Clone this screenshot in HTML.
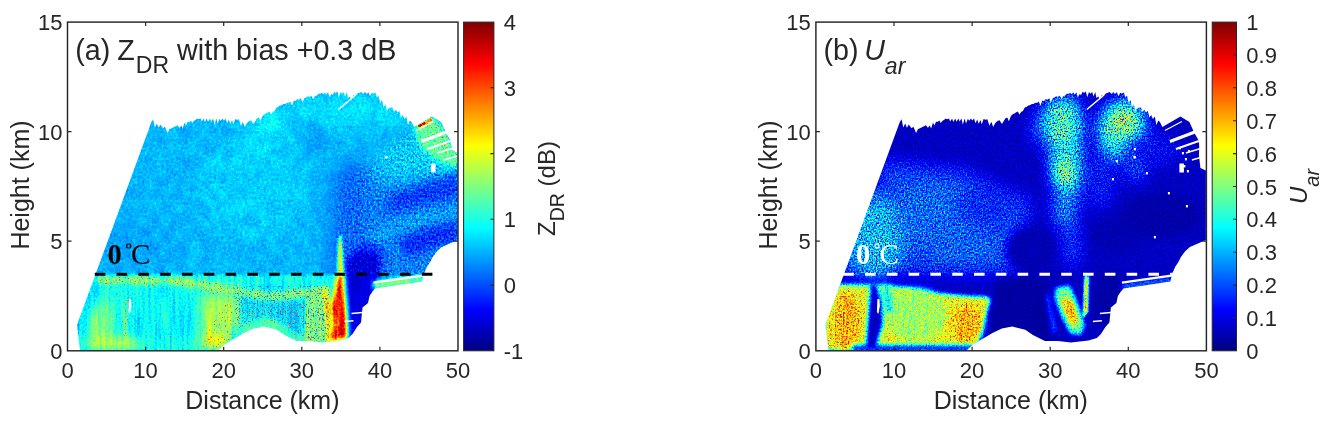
<!DOCTYPE html>
<html><head><meta charset="utf-8"><title>RHI</title><style>html,body{margin:0;padding:0;background:#fff}svg{display:block}text{opacity:.996}text{font-family:'Liberation Sans',sans-serif;fill:#262626}.tk{font-size:22px}.lb{font-size:25px}.tt{font-size:28.7px}</style></head><body>
<svg width="1327" height="427" viewBox="0 0 1327 427">
<defs>
<linearGradient id="jg" x1="0" y1="1" x2="0" y2="0"><stop offset="0.0000" stop-color="rgb(0,0,128)"/><stop offset="0.0312" stop-color="rgb(0,0,159)"/><stop offset="0.0625" stop-color="rgb(0,0,191)"/><stop offset="0.0938" stop-color="rgb(0,0,223)"/><stop offset="0.1250" stop-color="rgb(0,0,255)"/><stop offset="0.1562" stop-color="rgb(0,32,255)"/><stop offset="0.1875" stop-color="rgb(0,64,255)"/><stop offset="0.2188" stop-color="rgb(0,96,255)"/><stop offset="0.2500" stop-color="rgb(0,128,255)"/><stop offset="0.2812" stop-color="rgb(0,159,255)"/><stop offset="0.3125" stop-color="rgb(0,191,255)"/><stop offset="0.3438" stop-color="rgb(0,223,255)"/><stop offset="0.3750" stop-color="rgb(0,255,255)"/><stop offset="0.4062" stop-color="rgb(32,255,223)"/><stop offset="0.4375" stop-color="rgb(64,255,191)"/><stop offset="0.4688" stop-color="rgb(96,255,159)"/><stop offset="0.5000" stop-color="rgb(128,255,128)"/><stop offset="0.5312" stop-color="rgb(159,255,96)"/><stop offset="0.5625" stop-color="rgb(191,255,64)"/><stop offset="0.5938" stop-color="rgb(223,255,32)"/><stop offset="0.6250" stop-color="rgb(255,255,0)"/><stop offset="0.6562" stop-color="rgb(255,223,0)"/><stop offset="0.6875" stop-color="rgb(255,191,0)"/><stop offset="0.7188" stop-color="rgb(255,159,0)"/><stop offset="0.7500" stop-color="rgb(255,128,0)"/><stop offset="0.7812" stop-color="rgb(255,96,0)"/><stop offset="0.8125" stop-color="rgb(255,64,0)"/><stop offset="0.8438" stop-color="rgb(255,32,0)"/><stop offset="0.8750" stop-color="rgb(255,0,0)"/><stop offset="0.9062" stop-color="rgb(223,0,0)"/><stop offset="0.9375" stop-color="rgb(191,0,0)"/><stop offset="0.9688" stop-color="rgb(159,0,0)"/><stop offset="1.0000" stop-color="rgb(128,0,0)"/></linearGradient>
<filter id="b1" x="-30%" y="-30%" width="160%" height="160%" color-interpolation-filters="sRGB"><feGaussianBlur stdDeviation="1"/></filter>
<filter id="b2" x="-30%" y="-30%" width="160%" height="160%" color-interpolation-filters="sRGB"><feGaussianBlur stdDeviation="2"/></filter>
<filter id="b4" x="-30%" y="-30%" width="160%" height="160%" color-interpolation-filters="sRGB"><feGaussianBlur stdDeviation="4"/></filter>
<filter id="b8" x="-30%" y="-30%" width="160%" height="160%" color-interpolation-filters="sRGB"><feGaussianBlur stdDeviation="8"/></filter>
<filter id="j1u" x="0" y="0" width="1327" height="427" filterUnits="userSpaceOnUse" color-interpolation-filters="sRGB"><feTurbulence type="fractalNoise" baseFrequency="0.42 0.38" numOctaves="3" seed="5" result="n"/><feColorMatrix in="n" type="matrix" values="1.3 1.3 0 0 -0.8  1.3 1.3 0 0 -0.8  1.3 1.3 0 0 -0.8  0 0 0 0 1" result="ng"/><feTurbulence type="fractalNoise" baseFrequency="0.09 0.07" numOctaves="2" seed="12" result="s"/><feColorMatrix in="s" type="matrix" values="1.3 1.3 0 0 -0.8  1.3 1.3 0 0 -0.8  1.3 1.3 0 0 -0.8  0 0 0 0 1" result="sg"/><feComposite in="ng" in2="sg" operator="arithmetic" k1="0" k2="0.65" k3="0.35" k4="0" result="ng"/><feComposite in="SourceGraphic" in2="ng" operator="arithmetic" k1="0.200" k2="0.900" k3="0.050" k4="-0.025" result="v"/><feComponentTransfer in="v"><feFuncR type="table" tableValues="0.000 0.000 0.000 0.000 0.000 0.000 0.000 0.000 0.000 0.000 0.000 0.000 0.000 0.000 0.000 0.000 0.100 0.200 0.300 0.400 0.500 0.600 0.700 0.800 0.900 1.000 1.000 1.000 1.000 1.000 1.000 1.000 1.000 1.000 1.000 1.000 0.900 0.800 0.700 0.600 0.500"/><feFuncG type="table" tableValues="0.000 0.000 0.000 0.000 0.000 0.000 0.100 0.200 0.300 0.400 0.500 0.600 0.700 0.800 0.900 1.000 1.000 1.000 1.000 1.000 1.000 1.000 1.000 1.000 1.000 1.000 0.900 0.800 0.700 0.600 0.500 0.400 0.300 0.200 0.100 0.000 0.000 0.000 0.000 0.000 0.000"/><feFuncB type="table" tableValues="0.500 0.600 0.700 0.800 0.900 1.000 1.000 1.000 1.000 1.000 1.000 1.000 1.000 1.000 1.000 1.000 0.900 0.800 0.700 0.600 0.500 0.400 0.300 0.200 0.100 0.000 0.000 0.000 0.000 0.000 0.000 0.000 0.000 0.000 0.000 0.000 0.000 0.000 0.000 0.000 0.000"/></feComponentTransfer></filter>
<filter id="j1r" x="0" y="0" width="1327" height="427" filterUnits="userSpaceOnUse" color-interpolation-filters="sRGB"><feTurbulence type="fractalNoise" baseFrequency="0.55 0.47" numOctaves="2" seed="6" result="n"/><feColorMatrix in="n" type="matrix" values="1.3 1.3 0 0 -0.8  1.3 1.3 0 0 -0.8  1.3 1.3 0 0 -0.8  0 0 0 0 1" result="ng"/><feComposite in="SourceGraphic" in2="ng" operator="arithmetic" k1="0.250" k2="0.875" k3="0.150" k4="-0.075" result="v"/><feComponentTransfer in="v"><feFuncR type="table" tableValues="0.000 0.000 0.000 0.000 0.000 0.000 0.000 0.000 0.000 0.000 0.000 0.000 0.000 0.000 0.000 0.000 0.100 0.200 0.300 0.400 0.500 0.600 0.700 0.800 0.900 1.000 1.000 1.000 1.000 1.000 1.000 1.000 1.000 1.000 1.000 1.000 0.900 0.800 0.700 0.600 0.500"/><feFuncG type="table" tableValues="0.000 0.000 0.000 0.000 0.000 0.000 0.100 0.200 0.300 0.400 0.500 0.600 0.700 0.800 0.900 1.000 1.000 1.000 1.000 1.000 1.000 1.000 1.000 1.000 1.000 1.000 0.900 0.800 0.700 0.600 0.500 0.400 0.300 0.200 0.100 0.000 0.000 0.000 0.000 0.000 0.000"/><feFuncB type="table" tableValues="0.500 0.600 0.700 0.800 0.900 1.000 1.000 1.000 1.000 1.000 1.000 1.000 1.000 1.000 1.000 1.000 0.900 0.800 0.700 0.600 0.500 0.400 0.300 0.200 0.100 0.000 0.000 0.000 0.000 0.000 0.000 0.000 0.000 0.000 0.000 0.000 0.000 0.000 0.000 0.000 0.000"/></feComponentTransfer></filter>
<filter id="j1l" x="0" y="0" width="1327" height="427" filterUnits="userSpaceOnUse" color-interpolation-filters="sRGB"><feTurbulence type="fractalNoise" baseFrequency="0.5 0.45" numOctaves="2" seed="8" result="n"/><feColorMatrix in="n" type="matrix" values="1.3 1.3 0 0 -0.8  1.3 1.3 0 0 -0.8  1.3 1.3 0 0 -0.8  0 0 0 0 1" result="ng"/><feTurbulence type="fractalNoise" baseFrequency="0.33 0.02" numOctaves="2" seed="15" result="s"/><feColorMatrix in="s" type="matrix" values="1.3 1.3 0 0 -0.8  1.3 1.3 0 0 -0.8  1.3 1.3 0 0 -0.8  0 0 0 0 1" result="sg"/><feComposite in="ng" in2="sg" operator="arithmetic" k1="0" k2="0.50" k3="0.50" k4="0" result="ng"/><feComposite in="SourceGraphic" in2="ng" operator="arithmetic" k1="0.300" k2="0.850" k3="0.080" k4="-0.040" result="v"/><feComponentTransfer in="v"><feFuncR type="table" tableValues="0.000 0.000 0.000 0.000 0.000 0.000 0.000 0.000 0.000 0.000 0.000 0.000 0.000 0.000 0.000 0.000 0.100 0.200 0.300 0.400 0.500 0.600 0.700 0.800 0.900 1.000 1.000 1.000 1.000 1.000 1.000 1.000 1.000 1.000 1.000 1.000 0.900 0.800 0.700 0.600 0.500"/><feFuncG type="table" tableValues="0.000 0.000 0.000 0.000 0.000 0.000 0.100 0.200 0.300 0.400 0.500 0.600 0.700 0.800 0.900 1.000 1.000 1.000 1.000 1.000 1.000 1.000 1.000 1.000 1.000 1.000 0.900 0.800 0.700 0.600 0.500 0.400 0.300 0.200 0.100 0.000 0.000 0.000 0.000 0.000 0.000"/><feFuncB type="table" tableValues="0.500 0.600 0.700 0.800 0.900 1.000 1.000 1.000 1.000 1.000 1.000 1.000 1.000 1.000 1.000 1.000 0.900 0.800 0.700 0.600 0.500 0.400 0.300 0.200 0.100 0.000 0.000 0.000 0.000 0.000 0.000 0.000 0.000 0.000 0.000 0.000 0.000 0.000 0.000 0.000 0.000"/></feComponentTransfer></filter>
<filter id="j2u" x="0" y="0" width="1327" height="427" filterUnits="userSpaceOnUse" color-interpolation-filters="sRGB"><feTurbulence type="fractalNoise" baseFrequency="0.68 0.61" numOctaves="2" seed="9" result="n"/><feColorMatrix in="n" type="matrix" values="1.3 1.3 0 0 -0.8  1.3 1.3 0 0 -0.8  1.3 1.3 0 0 -0.8  0 0 0 0 1" result="ng"/><feComposite in="SourceGraphic" in2="ng" operator="arithmetic" k1="1.350" k2="0.325" k3="0.030" k4="-0.015" result="v"/><feComponentTransfer in="v"><feFuncR type="table" tableValues="0.000 0.000 0.000 0.000 0.000 0.000 0.000 0.000 0.000 0.000 0.000 0.000 0.000 0.000 0.000 0.000 0.100 0.200 0.300 0.400 0.500 0.600 0.700 0.800 0.900 1.000 1.000 1.000 1.000 1.000 1.000 1.000 1.000 1.000 1.000 1.000 0.900 0.800 0.700 0.600 0.500"/><feFuncG type="table" tableValues="0.000 0.000 0.000 0.000 0.000 0.000 0.100 0.200 0.300 0.400 0.500 0.600 0.700 0.800 0.900 1.000 1.000 1.000 1.000 1.000 1.000 1.000 1.000 1.000 1.000 1.000 0.900 0.800 0.700 0.600 0.500 0.400 0.300 0.200 0.100 0.000 0.000 0.000 0.000 0.000 0.000"/><feFuncB type="table" tableValues="0.500 0.600 0.700 0.800 0.900 1.000 1.000 1.000 1.000 1.000 1.000 1.000 1.000 1.000 1.000 1.000 0.900 0.800 0.700 0.600 0.500 0.400 0.300 0.200 0.100 0.000 0.000 0.000 0.000 0.000 0.000 0.000 0.000 0.000 0.000 0.000 0.000 0.000 0.000 0.000 0.000"/></feComponentTransfer></filter>
<filter id="j2l" x="0" y="0" width="1327" height="427" filterUnits="userSpaceOnUse" color-interpolation-filters="sRGB"><feTurbulence type="fractalNoise" baseFrequency="0.62 0.55" numOctaves="2" seed="3" result="n"/><feColorMatrix in="n" type="matrix" values="1.3 1.3 0 0 -0.8  1.3 1.3 0 0 -0.8  1.3 1.3 0 0 -0.8  0 0 0 0 1" result="ng"/><feTurbulence type="fractalNoise" baseFrequency="0.25 0.03" numOctaves="2" seed="10" result="s"/><feColorMatrix in="s" type="matrix" values="1.3 1.3 0 0 -0.8  1.3 1.3 0 0 -0.8  1.3 1.3 0 0 -0.8  0 0 0 0 1" result="sg"/><feComposite in="ng" in2="sg" operator="arithmetic" k1="0" k2="0.85" k3="0.15" k4="0" result="ng"/><feComposite in="SourceGraphic" in2="ng" operator="arithmetic" k1="0.620" k2="0.690" k3="0.040" k4="-0.020" result="v"/><feComponentTransfer in="v"><feFuncR type="table" tableValues="0.000 0.000 0.000 0.000 0.000 0.000 0.000 0.000 0.000 0.000 0.000 0.000 0.000 0.000 0.000 0.000 0.100 0.200 0.300 0.400 0.500 0.600 0.700 0.800 0.900 1.000 1.000 1.000 1.000 1.000 1.000 1.000 1.000 1.000 1.000 1.000 0.900 0.800 0.700 0.600 0.500"/><feFuncG type="table" tableValues="0.000 0.000 0.000 0.000 0.000 0.000 0.100 0.200 0.300 0.400 0.500 0.600 0.700 0.800 0.900 1.000 1.000 1.000 1.000 1.000 1.000 1.000 1.000 1.000 1.000 1.000 0.900 0.800 0.700 0.600 0.500 0.400 0.300 0.200 0.100 0.000 0.000 0.000 0.000 0.000 0.000"/><feFuncB type="table" tableValues="0.500 0.600 0.700 0.800 0.900 1.000 1.000 1.000 1.000 1.000 1.000 1.000 1.000 1.000 1.000 1.000 0.900 0.800 0.700 0.600 0.500 0.400 0.300 0.200 0.100 0.000 0.000 0.000 0.000 0.000 0.000 0.000 0.000 0.000 0.000 0.000 0.000 0.000 0.000 0.000 0.000"/></feComponentTransfer></filter>
<filter id="spw" x="0" y="0" width="1327" height="427" filterUnits="userSpaceOnUse" color-interpolation-filters="sRGB"><feTurbulence type="fractalNoise" baseFrequency="0.63 0.59" numOctaves="1" seed="21"/><feColorMatrix type="matrix" values="0 1 0 0 0  0 1 0 0 0  0 1 0 0 0  9.00 0 0 0 -5.40"/><feComponentTransfer><feFuncR type="table" tableValues="1 1 1 0.9 0.6"/><feFuncG type="table" tableValues="1 0.8 0.5 0.2 0"/><feFuncB type="table" tableValues="0 0 0 0 0"/></feComponentTransfer><feComposite in2="SourceGraphic" operator="in"/></filter>
<filter id="spb" x="0" y="0" width="1327" height="427" filterUnits="userSpaceOnUse" color-interpolation-filters="sRGB"><feTurbulence type="fractalNoise" baseFrequency="0.61 0.57" numOctaves="1" seed="33"/><feColorMatrix type="matrix" values="0 1 0 0 0  0 1 0 0 0  0 1 0 0 0  9.00 0 0 0 -5.22"/><feComponentTransfer><feFuncR type="table" tableValues="0 0 0 0 0"/><feFuncG type="table" tableValues="0.2 0.3 0.5 0.6 0.3"/><feFuncB type="table" tableValues="1 1 1 1 0.9"/></feComponentTransfer><feComposite in2="SourceGraphic" operator="in"/></filter>
<clipPath id="c1"><polygon points="151.3,122.3 153.2,119.3 154.9,127.5 156.8,123.6 158.5,127.8 160.4,124.5 163.1,128.3 165.0,126.8 167.7,133.0 169.6,129.0 171.6,128.2 173.5,127.2 175.6,126.3 177.5,125.3 179.5,127.8 181.4,125.6 182.7,128.4 184.6,122.5 185.9,125.6 187.8,121.5 189.1,121.9 191.0,120.5 192.3,122.9 194.2,120.7 195.5,120.0 197.4,118.5 198.7,119.2 200.6,118.5 201.8,121.4 203.7,118.5 204.9,121.9 206.8,118.5 208.1,121.7 210.0,118.5 211.2,121.5 213.2,118.5 214.4,124.5 216.3,118.5 217.6,123.6 219.5,118.8 220.7,120.7 222.6,118.5 223.9,120.6 225.8,118.5 227.0,123.2 228.9,119.6 230.2,123.7 232.1,120.1 233.3,124.3 235.2,118.9 237.1,119.8 239.0,119.3 241.0,125.7 242.9,121.8 244.8,126.9 246.7,123.3 249.2,121.1 251.1,120.2 253.5,124.1 255.4,121.0 257.0,118.3 258.9,117.4 260.5,121.2 262.4,116.2 264.0,114.6 265.9,113.5 267.5,112.6 269.4,111.5 271.0,114.4 272.9,111.7 274.5,111.1 276.4,107.5 278.0,107.0 279.9,105.5 281.5,105.3 283.4,104.1 285.0,103.9 286.9,102.8 288.5,103.0 290.4,101.4 292.0,105.8 293.9,100.6 295.5,101.2 297.4,99.1 299.0,99.8 300.9,98.2 302.5,102.4 304.4,97.9 306.0,97.4 307.9,96.3 309.5,97.1 311.4,95.4 313.0,99.3 314.9,96.0 316.5,95.8 318.4,93.7 320.0,93.8 321.9,92.8 323.1,94.3 325.0,92.5 326.2,94.7 328.1,92.2 329.4,97.6 331.3,93.7 332.5,95.2 334.4,91.5 335.6,93.1 337.5,91.6 338.8,97.2 340.6,92.0 341.9,93.7 343.8,91.9 345.0,96.6 346.9,92.0 348.0,98.1 349.9,96.5 351.5,99.4 353.4,94.9 355.5,95.8 357.4,93.4 359.5,92.7 361.4,92.0 363.0,93.9 364.9,92.1 366.5,94.1 368.4,92.2 370.0,96.0 371.9,92.8 373.5,93.8 375.4,92.3 376.8,96.9 378.7,96.0 380.2,103.3 382.1,99.8 383.5,107.4 385.4,104.3 387.0,110.9 388.9,108.1 390.5,107.8 392.4,107.2 394.0,112.1 395.9,109.8 397.5,112.5 399.4,111.0 401.0,117.4 402.9,114.9 404.5,119.0 406.4,116.5 408.0,125.1 409.9,120.5 411.5,122.0 414.0,127.0 432.0,116.5 441.0,122.0 446.0,133.0 450.0,140.0 452.0,150.0 457.5,153.0 457.5,240.0 441.5,247.0 437.0,251.0 432.5,257.0 430.0,262.0 427.0,266.5 424.5,272.0 423.0,277.0 422.0,281.5 375.0,288.5 372.5,291.5 369.5,296.0 368.0,303.0 362.5,307.5 361.0,322.5 357.0,327.0 352.5,334.0 348.5,338.0 340.0,340.5 322.5,342.5 309.5,341.0 296.5,341.0 284.5,335.0 276.9,329.8 263.8,326.5 253.5,328.5 244.1,333.0 224.5,344.5 217.5,351.0 80.0,351.0 77.0,324.8"/></clipPath>
<clipPath id="c2"><polygon points="899.7,122.3 901.6,119.3 903.3,127.5 905.2,123.6 906.9,127.8 908.8,124.5 911.5,128.3 913.4,126.8 916.1,133.0 918.0,129.0 920.0,128.2 921.9,127.2 924.0,126.3 925.9,125.3 927.9,127.8 929.8,125.6 931.1,128.4 933.0,122.5 934.3,125.6 936.2,121.5 937.5,121.9 939.4,120.5 940.7,122.9 942.6,120.7 943.9,120.0 945.8,118.5 947.0,119.2 949.0,118.5 950.2,121.4 952.1,118.5 953.3,121.9 955.2,118.5 956.5,121.7 958.4,118.5 959.6,121.5 961.5,118.5 962.8,124.5 964.7,118.5 966.0,123.6 967.9,118.8 969.1,120.7 971.0,118.5 972.2,120.6 974.1,118.5 975.4,123.2 977.3,119.6 978.5,123.7 980.5,120.1 981.7,124.3 983.6,118.9 985.5,119.8 987.4,119.3 989.4,125.7 991.3,121.8 993.2,126.9 995.1,123.3 997.5,121.1 999.5,120.2 1001.9,124.1 1003.8,121.0 1005.4,118.3 1007.3,117.4 1008.9,121.2 1010.8,116.2 1012.4,114.6 1014.3,113.5 1015.9,112.6 1017.8,111.5 1019.4,114.4 1021.3,111.7 1022.9,111.1 1024.8,107.5 1026.4,107.0 1028.3,105.5 1029.9,105.3 1031.8,104.1 1033.4,103.9 1035.3,102.8 1036.9,103.0 1038.8,101.4 1040.4,105.8 1042.3,100.6 1043.9,101.2 1045.8,99.1 1047.4,99.8 1049.3,98.2 1050.9,102.4 1052.8,97.9 1054.4,97.4 1056.3,96.3 1057.9,97.1 1059.8,95.4 1061.4,99.3 1063.3,96.0 1064.9,95.8 1066.8,93.7 1068.4,93.8 1070.3,92.8 1071.5,94.3 1073.4,92.5 1074.7,94.7 1076.5,92.2 1077.8,97.6 1079.7,93.7 1080.9,95.2 1082.8,91.5 1084.0,93.1 1085.9,91.6 1087.2,97.2 1089.0,92.0 1090.3,93.7 1092.2,91.9 1093.4,96.6 1095.3,92.0 1096.4,98.1 1098.3,96.5 1099.9,99.4 1101.8,94.9 1103.9,95.8 1105.8,93.4 1107.9,92.7 1109.8,92.0 1111.4,93.9 1113.3,92.1 1114.9,94.1 1116.8,92.2 1118.4,96.0 1120.3,92.8 1121.9,93.8 1123.8,92.3 1125.2,96.9 1127.1,96.0 1128.6,103.3 1130.5,99.8 1131.9,107.4 1133.8,104.3 1135.4,110.9 1137.3,108.1 1138.9,107.8 1140.8,107.2 1142.4,112.1 1144.3,109.8 1145.9,112.5 1147.8,111.0 1149.4,117.4 1151.3,114.9 1152.9,119.0 1154.8,116.5 1156.4,125.1 1158.3,120.5 1159.9,122.0 1162.4,127.0 1180.4,116.5 1189.4,122.0 1194.4,133.0 1198.4,140.0 1200.4,150.0 1205.9,153.0 1205.9,240.0 1189.9,247.0 1185.4,251.0 1180.9,257.0 1178.4,262.0 1175.4,266.5 1172.9,272.0 1171.4,277.0 1170.4,281.5 1123.4,288.5 1120.9,291.5 1117.9,296.0 1116.4,303.0 1110.9,307.5 1109.4,322.5 1105.4,327.0 1100.9,334.0 1096.9,338.0 1088.4,340.5 1070.9,342.5 1057.9,341.0 1044.9,341.0 1032.9,335.0 1025.3,329.8 1012.2,326.5 1001.9,328.5 992.5,333.0 972.9,344.5 965.9,351.0 828.4,351.0 825.4,324.8"/></clipPath>
<clipPath id="u1"><rect x="0" y="0" width="1327" height="275"/></clipPath>
<mask id="mr" maskUnits="userSpaceOnUse" x="0" y="0" width="1327" height="427"><polygon points="407.5,130.0 487.5,110.0 487.5,300.0 335.5,300.0 335.5,185.0" fill="#fff" filter="url(#b8)"/></mask>
<clipPath id="l1"><rect x="0" y="275" width="1327" height="100"/></clipPath>
<g id="fd1"><rect x="67.5" y="22" width="390" height="328" fill="rgb(78,78,78)"/>
<g filter="url(#b8)">
<ellipse cx="252.5" cy="185.0" rx="55.0" ry="55.0" fill="rgb(84,84,84)"/>
<ellipse cx="267.5" cy="135.0" rx="25.0" ry="20.0" fill="rgb(88,88,88)"/>
<ellipse cx="127.5" cy="250.0" rx="40.0" ry="30.0" fill="rgb(74,74,74)"/>
<ellipse cx="315.5" cy="133.0" rx="13.0" ry="14.0" fill="rgb(67,67,67)"/>
<ellipse cx="349.5" cy="112.0" rx="62.0" ry="17.0" fill="rgb(89,89,89)"/>
<ellipse cx="282.5" cy="135.0" rx="16.0" ry="22.0" fill="rgb(85,85,85)"/>
<ellipse cx="271.5" cy="121.0" rx="7.0" ry="13.0" fill="rgb(107,107,107)"/>
<polygon points="329.5,200.0 339.5,165.0 367.5,160.0 377.5,185.0 462.5,178.0 462.5,262.0 367.5,345.0 329.5,345.0 325.5,270.0" fill="rgb(64,64,64)"/>
<ellipse cx="351.5" cy="215.0" rx="13.0" ry="55.0" fill="rgb(57,57,57)"/>
<ellipse cx="439.5" cy="147.0" rx="26.0" ry="22.0" fill="rgb(93,93,93)"/>
<ellipse cx="407.5" cy="160.0" rx="30.0" ry="18.0" fill="rgb(84,84,84)"/>
</g>
<g filter="url(#b4)">
<polygon points="389.5,196.0 417.5,186.0 459.5,172.0 459.5,196.0 417.5,206.0 385.5,214.0" fill="rgb(47,47,47)"/>
<polygon points="367.5,232.0 417.5,214.0 459.5,206.0 459.5,216.0 417.5,226.0 367.5,246.0" fill="rgb(73,73,73)"/>
<polygon points="397.5,240.0 427.5,228.0 459.5,222.0 459.5,240.0 435.5,246.0 407.5,258.0" fill="rgb(43,43,43)"/>
<polygon points="348.5,255.0 367.5,240.0 385.5,250.0 379.5,275.0 347.5,275.0" fill="rgb(42,42,42)"/>
</g>
<g filter="url(#b2)">
<polygon points="67.5,275.0 338.5,275.0 338.5,352.0 67.5,352.0" fill="rgb(102,102,102)"/>
</g>
<g filter="url(#b4)">
<polygon points="75.5,320.0 95.5,276.0 103.5,276.0 87.5,318.0 84.5,338.0 77.5,338.0" fill="rgb(84,84,84)"/>
<ellipse cx="101.5" cy="325.0" rx="12.0" ry="26.0" fill="rgb(122,122,122)" transform="rotate(12.0 101.5 325.0)"/>
<ellipse cx="113.5" cy="343.0" rx="28.0" ry="7.0" fill="rgb(140,140,140)"/>
<ellipse cx="165.5" cy="312.0" rx="38.0" ry="28.0" fill="rgb(96,96,96)"/>
<polygon points="199.5,294.0 237.5,294.0 239.5,318.0 227.5,340.0 217.5,348.0 193.5,348.0 197.5,320.0" fill="rgb(126,126,126)"/>
<ellipse cx="215.5" cy="322.0" rx="8.0" ry="24.0" fill="rgb(145,145,145)"/>
<ellipse cx="217.5" cy="341.0" rx="10.0" ry="6.0" fill="rgb(173,173,173)"/>
<polygon points="243.5,286.0 317.5,284.0 317.5,345.0 302.5,345.0 282.5,325.0 257.5,320.0 243.5,326.0 239.5,310.0" fill="rgb(88,88,88)"/>
<ellipse cx="231.5" cy="314.0" rx="6.0" ry="18.0" fill="rgb(140,140,140)"/>
<ellipse cx="319.5" cy="315.0" rx="9.0" ry="26.0" fill="rgb(128,128,128)"/>
</g>
<g filter="url(#b2)">
<polygon points="95.5,277.0 177.5,277.0 217.5,284.0 267.5,292.0 329.5,286.0 329.5,296.0 267.5,301.0 217.5,292.0 177.5,285.0 95.5,283.0" fill="rgb(128,128,128)"/>
<polygon points="239.5,326.0 264.5,318.0 279.5,322.0 299.5,336.0 317.5,338.0 317.5,345.0 295.5,345.0 277.5,334.0 263.5,330.0 243.5,338.0" fill="rgb(112,112,112)"/>
<polygon points="338.5,274.0 344.0,274.0 347.0,338.0 325.5,342.0 329.5,318.0 334.5,294.0" fill="rgb(219,219,219)"/>
<polygon points="321.5,288.0 326.5,288.0 337.5,326.0 329.5,336.0" fill="rgb(173,173,173)"/>
<polygon points="307.5,288.0 321.5,288.0 329.5,340.0 303.5,342.0" fill="rgb(128,128,128)"/>
<polygon points="346.5,262.0 359.5,250.0 377.5,256.0 379.5,285.0 365.5,330.0 350.5,340.0" fill="rgb(24,24,24)"/>
<polygon points="373.5,281.0 423.5,274.5 423.5,282.5 373.5,290.0" fill="rgb(128,128,128)"/>
</g>
<g filter="url(#b2)">
<polygon points="413.5,128.0 432.0,116.5 446.0,133.0 452.0,150.0 458.5,153.0 458.5,168.0 439.5,162.0 419.5,146.0" fill="rgb(120,120,120)"/>
</g>
<line x1="418.0" y1="126.6" x2="425.3" y2="122.8" stroke="rgb(242,242,242)" stroke-width="2.6"/>
<line x1="425.3" y1="122.8" x2="432.3" y2="119.1" stroke="rgb(199,199,199)" stroke-width="2.6"/>
<g filter="url(#b1)">
<polygon points="337.8,242.0 342.2,242.0 344.5,276.0 336.5,276.0" fill="rgb(102,102,102)"/>
<polygon points="339.1,236.0 340.9,236.0 342.7,276.0 338.3,276.0" fill="rgb(168,168,168)"/>
</g></g>
<g id="fd2"><rect x="815.9" y="22" width="390" height="328" fill="rgb(17,17,17)"/>
<g filter="url(#b8)">
<polygon points="835.9,274.0 885.9,160.0 965.9,170.0 1030.9,200.0 1020.9,274.0" fill="rgb(48,48,48)"/>
<ellipse cx="873.9" cy="238.0" rx="30.0" ry="42.0" fill="rgb(79,79,79)"/>
<ellipse cx="935.9" cy="215.0" rx="42.0" ry="32.0" fill="rgb(57,57,57)"/>
<ellipse cx="985.9" cy="205.0" rx="30.0" ry="20.0" fill="rgb(41,41,41)"/>
<ellipse cx="965.9" cy="250.0" rx="40.0" ry="18.0" fill="rgb(55,55,55)"/>
<polygon points="1043.9,102.0 1075.9,95.0 1082.9,150.0 1077.9,205.0 1061.9,205.0 1049.9,160.0" fill="rgb(87,87,87)"/>
<ellipse cx="1063.4" cy="175.0" rx="8.5" ry="15.0" fill="rgb(163,163,163)"/>
<ellipse cx="1062.9" cy="123.0" rx="19.0" ry="23.0" fill="rgb(110,110,110)"/>
<ellipse cx="1036.9" cy="129.0" rx="4.0" ry="16.0" fill="rgb(76,76,76)"/>
<ellipse cx="1064.9" cy="207.0" rx="12.0" ry="24.0" fill="rgb(69,69,69)"/>
<ellipse cx="1071.9" cy="245.0" rx="9.0" ry="24.0" fill="rgb(48,48,48)"/>
<ellipse cx="1121.9" cy="130.0" rx="24.0" ry="30.0" fill="rgb(107,107,107)"/>
<ellipse cx="1124.4" cy="120.0" rx="9.5" ry="11.5" fill="rgb(158,158,158)"/>
<ellipse cx="1135.9" cy="166.0" rx="9.0" ry="16.0" fill="rgb(64,64,64)"/>
<ellipse cx="1100.9" cy="180.0" rx="14.0" ry="30.0" fill="rgb(38,38,38)"/>
<ellipse cx="1150.9" cy="150.0" rx="30.0" ry="16.0" fill="rgb(33,33,33)"/>
</g>
<g filter="url(#b4)">
<polygon points="995.9,278.0 1047.9,278.0 1051.9,348.0 981.9,348.0 993.9,300.0" fill="rgb(9,9,9)"/>
<ellipse cx="1029.9" cy="250.0" rx="24.0" ry="24.0" fill="rgb(13,13,13)"/>
<ellipse cx="1107.9" cy="300.0" rx="14.0" ry="30.0" fill="rgb(10,10,10)"/>
<ellipse cx="1160.9" cy="215.0" rx="40.0" ry="22.0" fill="rgb(11,11,11)"/>
<ellipse cx="1115.9" cy="235.0" rx="26.0" ry="16.0" fill="rgb(13,13,13)"/>
</g>
<g filter="url(#b2)">
<polygon points="823.9,350.0 823.9,322.0 838.9,284.5 875.9,285.0 905.9,287.5 933.9,293.0 965.9,296.0 989.4,297.0 989.9,302.0 976.9,343.0 972.9,350.0" fill="rgb(156,156,156)"/>
</g>
<g filter="url(#b4)">
<ellipse cx="845.9" cy="322.0" rx="15.0" ry="30.0" fill="rgb(178,178,178)"/>
<ellipse cx="965.9" cy="324.0" rx="17.0" ry="20.0" fill="rgb(176,176,176)"/>
<ellipse cx="915.9" cy="315.0" rx="30.0" ry="26.0" fill="rgb(135,135,135)"/>
<ellipse cx="885.9" cy="300.0" rx="8.0" ry="14.0" fill="rgb(128,128,128)"/>
</g>
<g filter="url(#b2)">
<polygon points="870.6,284.0 876.3,284.0 881.9,304.0 882.9,324.0 876.3,346.0 865.9,350.0 867.4,324.0 869.2,304.0" fill="rgb(15,15,15)"/>
<polygon points="883.9,287.0 887.9,287.0 891.9,312.0 887.9,312.0" fill="rgb(64,64,64)"/>
<polygon points="851.9,345.0 975.9,345.0 972.9,351.0 851.9,351.0" fill="rgb(31,31,31)"/>
<polygon points="1055.8,287.8 1069.8,285.4 1076.9,301.8 1084.9,325.0 1080.4,335.0 1069.9,333.0 1060.4,313.5 1054.6,297.2" fill="rgb(120,120,120)"/>
<ellipse cx="1070.4" cy="311.0" rx="5.5" ry="15.0" fill="rgb(178,178,178)" transform="rotate(-22.0 1070.4 311.0)"/>
<polygon points="1045.9,294.0 1048.4,294.0 1055.9,332.0 1052.9,333.0" fill="rgb(76,76,76)"/>
<polygon points="1121.9,284.0 1172.4,276.8 1172.4,282.0 1121.9,290.0" fill="rgb(61,61,61)"/>
</g>
<g filter="url(#b1)">
<polygon points="1084.5,276.0 1088.5,276.0 1087.9,312.0 1083.1,318.0" fill="rgb(168,168,168)"/>
</g></g>
</defs>
<rect width="1327" height="427" fill="#fff"/>
<g clip-path="url(#c1)">
<g clip-path="url(#u1)"><use href="#fd1" filter="url(#j1u)"/><g mask="url(#mr)"><use href="#fd1" filter="url(#j1r)"/></g></g>
<g clip-path="url(#l1)"><use href="#fd1" filter="url(#j1l)"/></g>
<g filter="url(#spw)">
<polygon points="95.5,276.0 177.5,276.0 217.5,282.0 267.5,290.0 329.5,284.0 329.5,300.0 267.5,305.0 217.5,295.0 177.5,287.0 95.5,284.0"/>
<polygon points="227.5,300.0 329.5,300.0 329.5,345.0 302.5,345.0 282.5,325.0 257.5,320.0 235.5,335.0 227.5,350.0 197.5,350.0 207.5,330.0"/>
<polygon points="126.5,292.0 132.5,292.0 127.5,340.0 119.5,340.0"/>
<polygon points="417.5,118.0 447.5,112.0 459.5,140.0 459.5,165.0 442.5,150.0"/>
</g>
<g filter="url(#spb)">
<polygon points="232.5,286.0 329.5,286.0 329.5,340.0 307.5,340.0 282.5,322.0 257.5,318.0 237.5,330.0"/>
</g>
</g>
<g clip-path="url(#c2)">
<g clip-path="url(#u1)"><use href="#fd2" filter="url(#j2u)"/></g>
<g clip-path="url(#l1)"><use href="#fd2" filter="url(#j2l)"/></g>
</g>
<line x1="338.5" y1="109.5" x2="355.5" y2="95.0" stroke="#fff" stroke-width="1.6"/>
<line x1="416.5" y1="130.5" x2="433.5" y2="121.5" stroke="#fff" stroke-width="1.2"/>
<line x1="421.5" y1="141.5" x2="446.5" y2="132.0" stroke="#fff" stroke-width="3.0"/>
<line x1="427.5" y1="149.0" x2="450.5" y2="141.0" stroke="#fff" stroke-width="2.0"/>
<line x1="437.5" y1="153.0" x2="455.5" y2="147.5" stroke="#fff" stroke-width="1.6"/>
<line x1="443.5" y1="160.0" x2="457.5" y2="156.0" stroke="#fff" stroke-width="1.4"/>
<line x1="373.5" y1="282.6" x2="424.5" y2="275.3" stroke="#fff" stroke-width="2.2"/>
<line x1="344.5" y1="321.5" x2="353.5" y2="320.8" stroke="#fff" stroke-width="1.4"/>
<line x1="351.5" y1="313.5" x2="362.5" y2="312.5" stroke="#fff" stroke-width="1.5"/>
<rect x="431.0" y="163.5" width="4.5" height="9.0" fill="#fff"/>
<rect x="385.0" y="156.0" width="2.5" height="2.5" fill="#fff"/>
<line x1="1086.9" y1="109.5" x2="1103.9" y2="95.0" stroke="#fff" stroke-width="1.6"/>
<line x1="1164.9" y1="130.5" x2="1181.9" y2="121.5" stroke="#fff" stroke-width="1.2"/>
<line x1="1169.9" y1="141.5" x2="1194.9" y2="132.0" stroke="#fff" stroke-width="3.0"/>
<line x1="1175.9" y1="149.0" x2="1198.9" y2="141.0" stroke="#fff" stroke-width="2.0"/>
<line x1="1185.9" y1="153.0" x2="1203.9" y2="147.5" stroke="#fff" stroke-width="1.6"/>
<line x1="1191.9" y1="160.0" x2="1205.9" y2="156.0" stroke="#fff" stroke-width="1.4"/>
<line x1="1121.9" y1="282.6" x2="1172.9" y2="275.3" stroke="#fff" stroke-width="2.2"/>
<line x1="1092.9" y1="321.5" x2="1101.9" y2="320.8" stroke="#fff" stroke-width="1.4"/>
<line x1="1099.9" y1="313.5" x2="1110.9" y2="312.5" stroke="#fff" stroke-width="1.5"/>
<rect x="1179.4" y="163.5" width="4.5" height="9.0" fill="#fff"/>
<rect x="1133.4" y="156.0" width="2.5" height="2.5" fill="#fff"/>
<polygon points="1199.4,143.0 1206.9,141.0 1206.9,171.0 1200.4,168.0 1198.9,155.0" fill="#fff"/>
<rect x="1181.9" y="152.0" width="2" height="2.4" fill="#fff"/>
<rect x="1184.9" y="158.0" width="2" height="2.4" fill="#fff"/>
<rect x="1187.9" y="150.0" width="2" height="2.4" fill="#fff"/>
<rect x="1183.4" y="165.0" width="2" height="2.4" fill="#fff"/>
<rect x="1186.9" y="170.0" width="2" height="2.4" fill="#fff"/>
<rect x="1178.9" y="147.0" width="2" height="2.4" fill="#fff"/>
<rect x="1145.9" y="172.0" width="2" height="2.4" fill="#fff"/>
<rect x="1133.9" y="148.0" width="2" height="2.4" fill="#fff"/>
<rect x="1115.9" y="160.0" width="2" height="2.4" fill="#fff"/>
<rect x="1111.9" y="178.0" width="2" height="2.4" fill="#fff"/>
<rect x="1167.9" y="192.0" width="2" height="2.4" fill="#fff"/>
<rect x="1185.9" y="205.0" width="2" height="2.4" fill="#fff"/>
<rect x="1153.9" y="236.0" width="2" height="2.4" fill="#fff"/>
<polygon points="129.0,299.0 131.0,299.0 131.5,306.0 130.0,314.0 128.5,312.0" fill="#fff"/>
<polygon points="877.4,299.0 879.4,299.0 879.9,306.0 878.4,314.0 876.9,312.0" fill="#fff"/>
<path d="M94.8 274.2H433.5" stroke="#000" stroke-width="3" stroke-dasharray="10.6 11.2" fill="none"/>
<text x="107.5" y="263.7" style="fill:#000;font-family:'Liberation Serif',serif;font-size:28.5px"><tspan font-weight="bold">0</tspan></text>
<circle cx="128.7" cy="245.9" r="2.1" fill="none" stroke="#000" stroke-width="1.1"/>
<text x="131.0" y="263.7" style="fill:#000;font-family:'Liberation Serif',serif;font-size:29px">C</text>
<path d="M843.2 274.2H1181.9" stroke="#fff" stroke-width="3" stroke-dasharray="10.6 11.2" fill="none"/>
<text x="855.9" y="263.7" style="fill:#fff;font-family:'Liberation Serif',serif;font-size:28.5px"><tspan font-weight="bold">0</tspan></text>
<circle cx="877.1" cy="245.9" r="2.1" fill="none" stroke="#fff" stroke-width="1.1"/>
<text x="879.4" y="263.7" style="fill:#fff;font-family:'Liberation Serif',serif;font-size:29px">C</text>
<rect x="67.5" y="22.1" width="390.5" height="328.7" fill="none" stroke="#262626" stroke-width="1.45"/>
<path d="M145.6 350.8v-4.0M145.6 22.1v4.0M223.7 350.8v-4.0M223.7 22.1v4.0M301.8 350.8v-4.0M301.8 22.1v4.0M379.9 350.8v-4.0M379.9 22.1v4.0M67.5 241.2h4.0M458.0 241.2h-4.0M67.5 131.7h4.0M458.0 131.7h-4.0" stroke="#262626" stroke-width="1.2" fill="none"/>
<text x="67.5" y="378.3" text-anchor="middle" class="tk">0</text>
<text x="145.6" y="378.3" text-anchor="middle" class="tk">10</text>
<text x="223.7" y="378.3" text-anchor="middle" class="tk">20</text>
<text x="301.8" y="378.3" text-anchor="middle" class="tk">30</text>
<text x="379.9" y="378.3" text-anchor="middle" class="tk">40</text>
<text x="458.0" y="378.3" text-anchor="middle" class="tk">50</text>
<text x="62.4" y="358.6" text-anchor="end" class="tk">0</text>
<text x="62.4" y="249.0" text-anchor="end" class="tk">5</text>
<text x="62.4" y="139.5" text-anchor="end" class="tk">10</text>
<text x="62.4" y="29.9" text-anchor="end" class="tk">15</text>
<text x="262.4" y="409.3" text-anchor="middle" class="lb">Distance (km)</text>
<text transform="translate(28.5,185.0) rotate(-90)" text-anchor="middle" class="lb">Height (km)</text>
<rect x="815.9" y="22.1" width="390.5" height="328.7" fill="none" stroke="#262626" stroke-width="1.45"/>
<path d="M894.0 350.8v-4.0M894.0 22.1v4.0M972.1 350.8v-4.0M972.1 22.1v4.0M1050.2 350.8v-4.0M1050.2 22.1v4.0M1128.3 350.8v-4.0M1128.3 22.1v4.0M815.9 241.2h4.0M1206.4 241.2h-4.0M815.9 131.7h4.0M1206.4 131.7h-4.0" stroke="#262626" stroke-width="1.2" fill="none"/>
<text x="815.9" y="378.3" text-anchor="middle" class="tk">0</text>
<text x="894.0" y="378.3" text-anchor="middle" class="tk">10</text>
<text x="972.1" y="378.3" text-anchor="middle" class="tk">20</text>
<text x="1050.2" y="378.3" text-anchor="middle" class="tk">30</text>
<text x="1128.3" y="378.3" text-anchor="middle" class="tk">40</text>
<text x="1206.4" y="378.3" text-anchor="middle" class="tk">50</text>
<text x="810.8" y="358.6" text-anchor="end" class="tk">0</text>
<text x="810.8" y="249.0" text-anchor="end" class="tk">5</text>
<text x="810.8" y="139.5" text-anchor="end" class="tk">10</text>
<text x="810.8" y="29.9" text-anchor="end" class="tk">15</text>
<text x="1010.8" y="409.3" text-anchor="middle" class="lb">Distance (km)</text>
<text transform="translate(776.9,185.0) rotate(-90)" text-anchor="middle" class="lb">Height (km)</text>
<rect x="463.6" y="22.1" width="30.3" height="328.7" fill="url(#jg)" stroke="#262626" stroke-width="1"/>
<text x="503.7" y="358.9" class="tk">-1</text>
<text x="503.7" y="293.2" class="tk">0</text>
<text x="503.7" y="227.4" class="tk">1</text>
<text x="503.7" y="161.7" class="tk">2</text>
<text x="503.7" y="95.9" class="tk">3</text>
<text x="503.7" y="30.2" class="tk">4</text>
<path d="M493.9 285.1h-3.5M493.9 219.3h-3.5M493.9 153.6h-3.5M493.9 87.8h-3.5" stroke="#262626" stroke-width="1.1" fill="none"/>
<rect x="1212.2" y="22.1" width="24.3" height="328.7" fill="url(#jg)" stroke="#262626" stroke-width="1"/>
<text x="1246.3" y="358.9" class="tk">0</text>
<text x="1246.3" y="326.0" class="tk">0.1</text>
<text x="1246.3" y="293.2" class="tk">0.2</text>
<text x="1246.3" y="260.3" class="tk">0.3</text>
<text x="1246.3" y="227.4" class="tk">0.4</text>
<text x="1246.3" y="194.6" class="tk">0.5</text>
<text x="1246.3" y="161.7" class="tk">0.6</text>
<text x="1246.3" y="128.8" class="tk">0.7</text>
<text x="1246.3" y="95.9" class="tk">0.8</text>
<text x="1246.3" y="63.1" class="tk">0.9</text>
<text x="1246.3" y="30.2" class="tk">1</text>
<path d="M1236.5 317.9h-3.5M1236.5 285.1h-3.5M1236.5 252.2h-3.5M1236.5 219.3h-3.5M1236.5 186.5h-3.5M1236.5 153.6h-3.5M1236.5 120.7h-3.5M1236.5 87.8h-3.5M1236.5 55.0h-3.5" stroke="#262626" stroke-width="1.1" fill="none"/>
<text x="75.3" y="59.5" class="tt">(a)<tspan dx="-1.2"> Z</tspan><tspan dy="13.5" dx="1.2" font-size="23">DR</tspan><tspan dy="-13.5"> with bias +0.3 dB</tspan></text>
<text x="823.5" y="60" class="tt">(b) <tspan font-style="italic" dx="-2.4">U</tspan><tspan dy="13.5" font-size="23" font-style="italic">ar</tspan></text>
<text transform="translate(555.3,188.5) rotate(-90)" text-anchor="middle" class="lb" style="font-size:24px">Z<tspan dy="9" font-size="19.5">DR</tspan><tspan dy="-9"> (dB)</tspan></text>
<text transform="translate(1307,186.5) rotate(-90)" text-anchor="middle" class="lb" style="font-size:24px" font-style="italic">U<tspan dy="11.5" font-size="20">ar</tspan></text>
</svg>
</body></html>
